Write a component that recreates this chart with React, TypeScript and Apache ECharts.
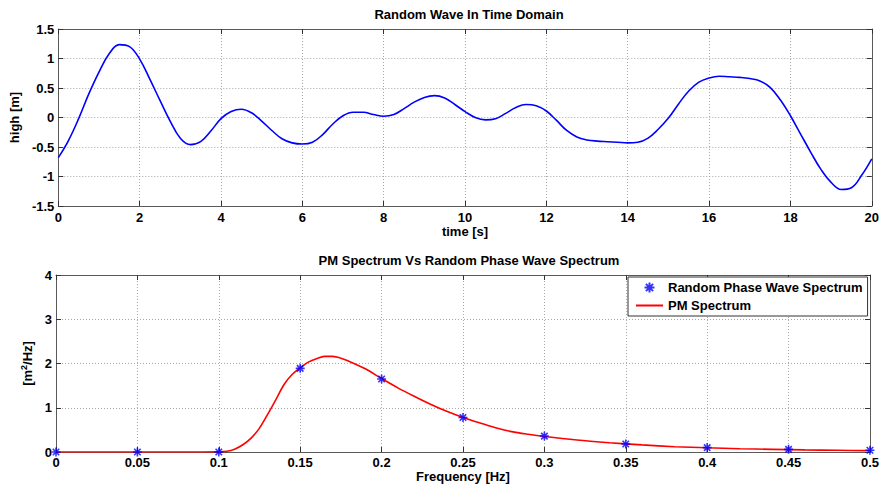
import React, { useEffect, useRef } from "react";
import * as echarts from "echarts";

// Random wave elevation sampled every 0.25 s
const TIME: number[] = [
  0, 0.25, 0.5, 0.75, 1, 1.25, 1.5, 1.75, 2, 2.25, 2.5, 2.75, 3, 3.25, 3.5, 3.75,
  4, 4.25, 4.5, 4.75, 5, 5.25, 5.5, 5.75, 6, 6.25, 6.5, 6.75, 7, 7.25, 7.5, 7.75,
  8, 8.25, 8.5, 8.75, 9, 9.25, 9.5, 9.75, 10, 10.25, 10.5, 10.75, 11, 11.25, 11.5, 11.75,
  12, 12.25, 12.5, 12.75, 13, 13.25, 13.5, 13.75, 14, 14.25, 14.5, 14.75, 15, 15.25, 15.5, 15.75,
  16, 16.25, 16.5, 16.75, 17, 17.25, 17.5, 17.75, 18, 18.25, 18.5, 18.75, 19, 19.25, 19.5, 19.75, 20,
];
const HEIGHT: number[] = [
  -0.68, -0.39, -0.02, 0.4, 0.77, 1.08, 1.235, 1.2, 0.99, 0.65, 0.29, -0.06, -0.35, -0.46, -0.41, -0.23,
  -0.02, 0.1, 0.14, 0.08, -0.06, -0.22, -0.36, -0.43, -0.45, -0.42, -0.29, -0.11, 0.03, 0.09, 0.09, 0.05,
  0.02, 0.05, 0.15, 0.26, 0.34, 0.37, 0.33, 0.22, 0.1, 0.0, -0.04, -0.02, 0.07, 0.17, 0.22, 0.2,
  0.11, -0.05, -0.22, -0.33, -0.38, -0.4, -0.41, -0.42, -0.43, -0.42, -0.35, -0.2, -0.01, 0.23, 0.45, 0.6,
  0.67, 0.7, 0.69, 0.68, 0.66, 0.62, 0.51, 0.3, 0.03, -0.28, -0.59, -0.88, -1.1, -1.22, -1.19, -0.98, -0.7,
];

// Random phase wave spectrum (discrete components)
const RP_FREQ: number[] = [0, 0.05, 0.1, 0.15, 0.2, 0.25, 0.3, 0.35, 0.4, 0.45, 0.5];
const RP_SPEC: number[] = [0, 0, 0, 1.89, 1.65, 0.78, 0.36, 0.18, 0.1, 0.06, 0.04];

// Pierson-Moskowitz spectrum curve
const PM_FREQ: number[] = [
  0, 0.05, 0.09, 0.1, 0.105, 0.11, 0.115, 0.12, 0.125, 0.13, 0.135, 0.14, 0.145, 0.15, 0.155,
  0.16, 0.165, 0.17, 0.175, 0.18, 0.19, 0.2, 0.21, 0.22, 0.23, 0.24, 0.25, 0.26, 0.27, 0.28, 0.29,
  0.3, 0.32, 0.34, 0.36, 0.38, 0.4, 0.42, 0.44, 0.46, 0.48, 0.5,
];
const PM_SPEC: number[] = [
  0, 0, 0, 0.002, 0.015, 0.07, 0.17, 0.32, 0.54, 0.85, 1.18, 1.52, 1.75, 1.9, 2.03,
  2.11, 2.16, 2.16, 2.12, 2.05, 1.88, 1.66, 1.45, 1.26, 1.08, 0.92, 0.78, 0.66, 0.55, 0.46, 0.4,
  0.35, 0.27, 0.21, 0.16, 0.12, 0.095, 0.075, 0.06, 0.048, 0.038, 0.03,
];

const TOP_TITLE = "Random Wave In Time Domain";
const BOTTOM_TITLE = "PM Spectrum Vs Random Phase Wave Spectrum";
const RP_NAME = "Random Phase Wave Spectrum";
const PM_NAME = "PM Spectrum";

const FONT = "'Liberation Sans', Arial, Helvetica, sans-serif";
const AXIS_COLOR = "#5a5a5a";
const ASTERISK = "path://M0,-5L0,5M-5,0L5,0M-3.6,-3.6L3.6,3.6M-3.6,3.6L3.6,-3.6";

const labelStyle = { color: "#000", fontWeight: "bold" as const, fontSize: 13, fontFamily: FONT };

function frameAxis(gridIndex: number, min: number, max: number, interval: number, position: string, main: boolean, labelExtra: any = {}) {
  return {
    type: "value",
    gridIndex,
    position,
    min,
    max,
    interval,
    axisLine: { show: true, onZero: false, lineStyle: { color: AXIS_COLOR, width: 1 } },
    axisTick: { show: true, inside: true, length: 5, lineStyle: { color: "#333", width: 1 } },
    axisLabel: main ? { show: true, margin: 4, ...labelStyle, ...labelExtra } : { show: false },
    splitLine: main
      ? { show: true, lineStyle: { color: "#a8a8a8", type: [1, 2], width: 1 } }
      : { show: false },
  };
}

export default function App() {
  const ref = useRef<HTMLDivElement>(null);

  useEffect(() => {
    if (!ref.current) return;
    const chart = echarts.init(ref.current, undefined, { renderer: "svg" });

    const fmt2 = (v: number) => String(parseFloat(v.toFixed(2)));

    const option: any = {
      animation: false,
      backgroundColor: "#fff",
      textStyle: { fontFamily: FONT },
      title: [
        {
          text: TOP_TITLE,
          left: 464,
          top: 3,
          textAlign: "center",
          textStyle: { ...labelStyle },
        },
        {
          text: BOTTOM_TITLE,
          left: 464,
          top: 249,
          textAlign: "center",
          textStyle: { ...labelStyle },
        },
      ],
      grid: [
        { left: 56, top: 29, width: 817, height: 177 },
        { left: 56, top: 275, width: 817, height: 177 },
      ],
      legend: {
        data: [
          { name: RP_NAME },
          { name: PM_NAME, itemStyle: { opacity: 0, borderWidth: 0 } },
        ],
        orient: "vertical",
        left: 628,
        top: 277,
        itemWidth: 27,
        itemHeight: 10,
        itemGap: 5,
        padding: [4, 5, 4, 7],
        backgroundColor: "#fff",
        borderColor: "#333",
        borderWidth: 1,
        borderRadius: 0,
        textStyle: { ...labelStyle },
        selectedMode: false,
      },
      xAxis: [
        {
          ...frameAxis(0, 0, 20, 2, "bottom", true, { margin: 5 }),
          name: "time [s]",
          nameLocation: "middle",
          nameGap: 17,
          nameTextStyle: { ...labelStyle },
        },
        frameAxis(0, 0, 20, 2, "top", false),
        {
          ...frameAxis(1, 0, 0.5, 0.05, "bottom", true, { formatter: fmt2 }),
          name: "Frequency [Hz]",
          nameLocation: "middle",
          nameGap: 18,
          nameTextStyle: { ...labelStyle },
        },
        frameAxis(1, 0, 0.5, 0.05, "top", false),
      ],
      yAxis: [
        {
          ...frameAxis(0, -1.5, 1.5, 0.5, "left", true),
          name: "high [m]",
          nameLocation: "middle",
          nameGap: 27,
          nameTextStyle: { ...labelStyle },
        },
        frameAxis(0, -1.5, 1.5, 0.5, "right", false),
        {
          ...frameAxis(1, 0, 4, 1, "left", true),
          name: "[m{sup|2}/Hz]",
          nameLocation: "middle",
          nameGap: 9,
          nameTextStyle: {
            ...labelStyle,
            rich: {
              sup: { ...labelStyle, fontSize: 9, verticalAlign: "top", padding: [0, 0, 6, 0] },
            },
          },
        },
        frameAxis(1, 0, 4, 1, "right", false),
      ],
      series: [
        {
          name: "wave",
          type: "line",
          xAxisIndex: 0,
          yAxisIndex: 0,
          data: TIME.map((t, i) => [t, HEIGHT[i]]),
          showSymbol: false,
          smooth: 0.4,
          lineStyle: { color: "#0000ff", width: 1.6 },
          itemStyle: { color: "#0000ff" },
          silent: true,
        },
        {
          name: PM_NAME,
          type: "line",
          xAxisIndex: 2,
          yAxisIndex: 2,
          data: PM_FREQ.map((f, i) => [f, PM_SPEC[i]]),
          symbol: "none",
          smooth: 0.3,
          lineStyle: { color: "#ff0000", width: 1.6 },
          itemStyle: { color: "#ff0000" },
          silent: true,
          z: 2,
        },
        {
          name: RP_NAME,
          type: "scatter",
          xAxisIndex: 2,
          yAxisIndex: 2,
          data: RP_FREQ.map((f, i) => [f, RP_SPEC[i]]),
          symbol: ASTERISK,
          symbolSize: 9,
          itemStyle: { color: "#0000ff", borderColor: "#0000ff", borderWidth: 1.6 },
          silent: true,
          z: 3,
        },
      ],
    };

    chart.setOption(option);
    return () => chart.dispose();
  }, []);

  return (
    <div
      ref={ref}
      style={{ position: "fixed", left: 0, top: 0, width: 882, height: 489 }}
    />
  );
}
